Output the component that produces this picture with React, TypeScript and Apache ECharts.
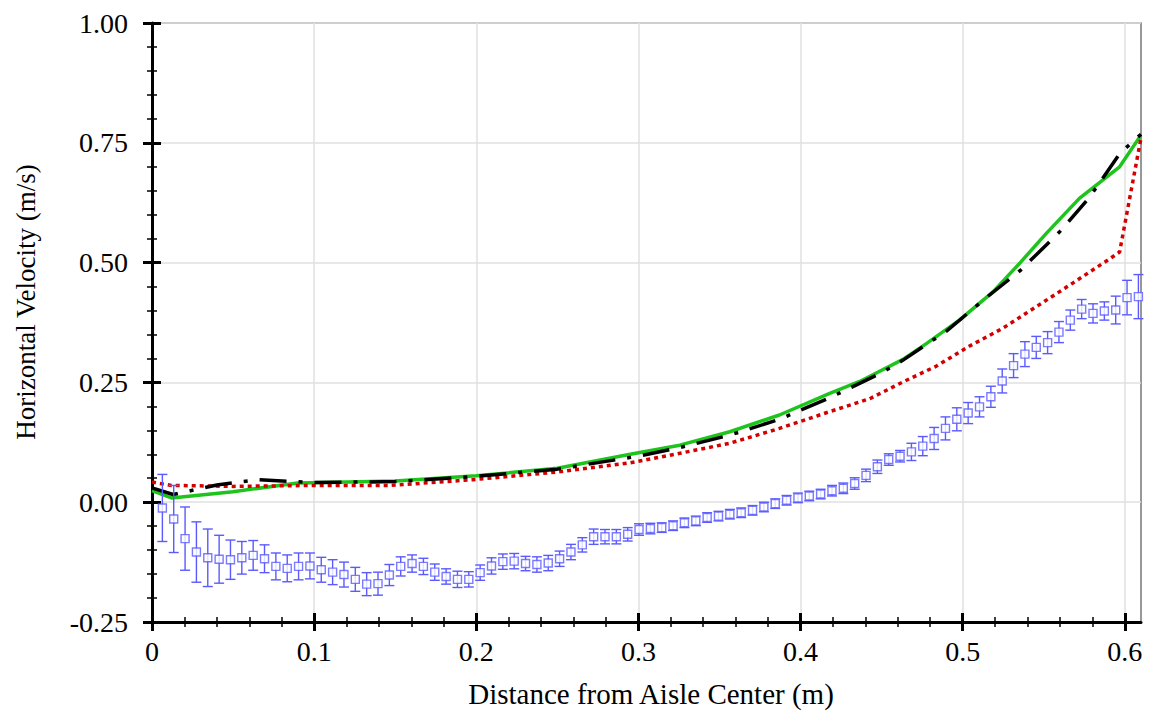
import React, { useEffect, useRef } from "react";
import * as echarts from "echarts";

// Measured data (blue squares with error bars)
const blueX = [
  0.0064, 0.0134, 0.0204, 0.0274, 0.0344, 0.0414, 0.0484, 0.0554, 0.0624, 0.0694,
  0.0764, 0.0834, 0.0904, 0.0974, 0.1044, 0.1114, 0.1184, 0.1254, 0.1324, 0.1394,
  0.1464, 0.1534, 0.1604, 0.1674, 0.1744, 0.1814, 0.1884, 0.1954, 0.2024, 0.2094,
  0.2164, 0.2234, 0.2304, 0.2374, 0.2444, 0.2514, 0.2584, 0.2654, 0.2724, 0.2794,
  0.2864, 0.2934, 0.3004, 0.3074, 0.3144, 0.3214, 0.3284, 0.3354, 0.3424, 0.3494,
  0.3564, 0.3634, 0.3704, 0.3774, 0.3844, 0.3914, 0.3984, 0.4054, 0.4124, 0.4194,
  0.4264, 0.4334, 0.4404, 0.4474, 0.4544, 0.4614, 0.4684, 0.4754, 0.4824, 0.4894,
  0.4964, 0.5034, 0.5104, 0.5174, 0.5244, 0.5314, 0.5384, 0.5454, 0.5524, 0.5594,
  0.5664, 0.5734, 0.5804, 0.5874, 0.5944, 0.6014, 0.6084,
];
const blueY = [
  -0.012, -0.035, -0.076, -0.104, -0.116, -0.119, -0.12, -0.116, -0.111, -0.118,
  -0.134, -0.138, -0.134, -0.133, -0.141, -0.146, -0.151, -0.161, -0.171, -0.17,
  -0.152, -0.134, -0.128, -0.134, -0.146, -0.155, -0.161, -0.161, -0.147, -0.133,
  -0.124, -0.123, -0.128, -0.13, -0.127, -0.118, -0.104, -0.089, -0.072, -0.072,
  -0.072, -0.067, -0.057, -0.055, -0.053, -0.049, -0.043, -0.039, -0.032, -0.029,
  -0.025, -0.022, -0.017, -0.01, -0.003, 0.004, 0.009, 0.013, 0.017, 0.024,
  0.029, 0.039, 0.056, 0.074, 0.089, 0.096, 0.105, 0.117, 0.133, 0.154,
  0.173, 0.186, 0.199, 0.22, 0.253, 0.285, 0.309, 0.323, 0.333, 0.355,
  0.38, 0.403, 0.394, 0.399, 0.401, 0.427, 0.429,
];
const blueErr = [
  0.07, 0.07, 0.066, 0.063, 0.06, 0.05, 0.041, 0.034, 0.031, 0.029,
  0.028, 0.028, 0.028, 0.027, 0.026, 0.026, 0.026, 0.025, 0.024, 0.024,
  0.022, 0.02, 0.018, 0.017, 0.017, 0.016, 0.017, 0.016, 0.016, 0.017,
  0.016, 0.016, 0.015, 0.016, 0.016, 0.016, 0.016, 0.015, 0.016, 0.015,
  0.015, 0.014, 0.012, 0.011, 0.01, 0.01, 0.01, 0.01, 0.01, 0.01,
  0.01, 0.01, 0.01, 0.01, 0.01, 0.01, 0.01, 0.01, 0.01, 0.011,
  0.011, 0.012, 0.013, 0.014, 0.012, 0.012, 0.018, 0.02, 0.023, 0.024,
  0.024, 0.022, 0.021, 0.022, 0.025, 0.025, 0.026, 0.023, 0.023, 0.022,
  0.021, 0.02, 0.02, 0.019, 0.029, 0.036, 0.046,
];

// Model predictions
const greenX = [0, 0.012, 0.05, 0.09, 0.15, 0.2, 0.25, 0.295, 0.3255, 0.3564, 0.387, 0.418, 0.4365, 0.4632, 0.4776, 0.498, 0.5187, 0.535, 0.5516, 0.572, 0.5968, 0.61];
const greenY = [0.024, 0.009, 0.022, 0.04, 0.044, 0.055, 0.071, 0.1, 0.119, 0.147, 0.182, 0.227, 0.252, 0.298, 0.331, 0.38, 0.439, 0.498, 0.561, 0.634, 0.7, 0.766];

const blackX = [0, 0.013, 0.04, 0.065, 0.1, 0.15, 0.2, 0.25, 0.3, 0.3255, 0.3564, 0.387, 0.418, 0.45, 0.463, 0.49, 0.515, 0.536, 0.56, 0.578, 0.597, 0.61];
const blackY = [0.03, 0.016, 0.036, 0.047, 0.041, 0.043, 0.054, 0.069, 0.096, 0.114, 0.14, 0.173, 0.218, 0.27, 0.296, 0.357, 0.428, 0.485, 0.565, 0.635, 0.728, 0.768];

const redX = [0, 0.012, 0.05, 0.1, 0.147, 0.198, 0.25, 0.2947, 0.3255, 0.3564, 0.387, 0.418, 0.4427, 0.4632, 0.4838, 0.5043, 0.5248, 0.5454, 0.566, 0.5894, 0.5968, 0.61];
const redY = [0.042, 0.035, 0.033, 0.035, 0.035, 0.047, 0.063, 0.082, 0.102, 0.123, 0.154, 0.189, 0.216, 0.251, 0.284, 0.326, 0.363, 0.408, 0.453, 0.505, 0.522, 0.76];

const xTickValues = [0, 0.1, 0.2, 0.3, 0.4, 0.5, 0.6];
const yTickValues = [-0.25, 0, 0.25, 0.5, 0.75, 1.0];

const BLUE = "#5a5aff";
const FONT = "Liberation Serif";

export default function App() {
  const ref = useRef<HTMLDivElement>(null);
  useEffect(() => {
    const chart = echarts.init(ref.current!, null, { renderer: "svg" });
    const pairs = (xs: number[], ys: number[]) => xs.map((x, i) => [x, ys[i]]);
    const errData = blueX.map((x, i) => [x, blueY[i] - blueErr[i], blueY[i] + blueErr[i]]);

    const xBase = { type: "value", min: 0, max: 0.61, interval: 0.1, gridIndex: 0, position: "bottom" };
    const yBase = { type: "value", min: -0.25, max: 1.0, interval: 0.25, gridIndex: 0, position: "left" };
    const tickStyle = { color: "#000", width: 3 };
    const minorStyle = { color: "#000", width: 1.5 };

    chart.setOption({
      animation: false,
      grid: { left: 152, right: 17, top: 23, bottom: 97, show: true, borderColor: "#777", borderWidth: 1.5, backgroundColor: "transparent" },
      xAxis: [
        {
          ...xBase,
          axisLine: { show: true, onZero: false, lineStyle: { color: "#000", width: 3 } },
          axisTick: { show: true, inside: false, length: 9, customValues: xTickValues, lineStyle: tickStyle },
          minorTick: { show: true, splitNumber: 5, length: 5, lineStyle: minorStyle },
          axisLabel: { show: false },
          splitLine: { show: true, lineStyle: { color: "#e0e0e0", width: 1.5 } },
        },
        {
          ...xBase,
          axisLine: { show: false, onZero: false },
          axisTick: { show: true, inside: true, length: 9, customValues: xTickValues, lineStyle: tickStyle },
          minorTick: { show: true, splitNumber: 5, length: 5, lineStyle: minorStyle },
          axisLabel: { show: false },
          splitLine: { show: false },
        },
      ],
      yAxis: [
        {
          ...yBase,
          axisLine: { show: true, onZero: false, lineStyle: { color: "#000", width: 3 } },
          axisTick: { show: true, inside: false, length: 9, lineStyle: tickStyle },
          minorTick: { show: true, splitNumber: 5, length: 5, lineStyle: minorStyle },
          axisLabel: { show: false },
          splitLine: { show: true, lineStyle: { color: "#e0e0e0", width: 1.5 } },
        },
        {
          ...yBase,
          axisLine: { show: false, onZero: false },
          axisTick: { show: true, inside: true, length: 9, lineStyle: tickStyle },
          minorTick: { show: true, splitNumber: 5, length: 5, lineStyle: minorStyle },
          axisLabel: { show: false },
          splitLine: { show: false },
        },
      ],
      series: [
        { name: "Model A", type: "line", data: pairs(greenX, greenY), showSymbol: false, symbol: "none", lineStyle: { color: "#1cc41c", width: 3.5 }, z: 3 },
        { name: "Model B", type: "line", data: pairs(redX, redY), showSymbol: false, symbol: "none", lineStyle: { color: "#d40000", width: 3.5, type: [4, 4], cap: "butt" }, z: 4 },
        { name: "Model C", type: "line", data: pairs(blackX, blackY), showSymbol: false, symbol: "none", lineStyle: { color: "#000", width: 3.5, type: [27, 12, 4, 12], cap: "butt" }, z: 5 },
        {
          name: "Error",
          type: "custom",
          data: errData,
          encode: { x: 0, y: [1, 2] },
          renderItem: (params: any, api: any) => {
            const x = api.value(0);
            const p1 = api.coord([x, api.value(2)]);
            const p2 = api.coord([x, api.value(1)]);
            const w = 5;
            const style = { stroke: BLUE, lineWidth: 1.4 };
            return {
              type: "group",
              children: [
                { type: "line", shape: { x1: p1[0], y1: p1[1], x2: p2[0], y2: p2[1] }, style },
                { type: "line", shape: { x1: p1[0] - w, y1: p1[1], x2: p1[0] + w, y2: p1[1] }, style },
                { type: "line", shape: { x1: p2[0] - w, y1: p2[1], x2: p2[0] + w, y2: p2[1] }, style },
              ],
            };
          },
          z: 6,
        },
        {
          name: "Measured",
          type: "scatter",
          data: pairs(blueX, blueY),
          symbol: "rect",
          symbolSize: 8,
          itemStyle: { color: "#fff", borderColor: BLUE, borderWidth: 1.4 },
          z: 7,
        },
      ],
    });

    const texts: any[] = [];
    xTickValues.forEach((v) => {
      const p = chart.convertToPixel({ xAxisIndex: 0 }, v) as number;
      texts.push({
        type: "text",
        x: p,
        y: 651,
        style: { text: v === 0 ? "0" : v.toFixed(1), fontFamily: FONT, fontSize: 28, fill: "#000", align: "center", verticalAlign: "middle" },
      });
    });
    yTickValues.forEach((v) => {
      const p = chart.convertToPixel({ yAxisIndex: 0 }, v) as number;
      texts.push({
        type: "text",
        x: 128,
        y: p,
        style: { text: v.toFixed(2), fontFamily: FONT, fontSize: 28, fill: "#000", align: "right", verticalAlign: "middle" },
      });
    });
    texts.push({
      type: "text",
      x: 26,
      y: 302,
      rotation: Math.PI / 2,
      style: { text: "Horizontal Velocity (m/s)", fontFamily: FONT, fontSize: 27, fill: "#000", align: "center", verticalAlign: "middle" },
    });
    texts.push({
      type: "text",
      x: 651,
      y: 694,
      style: { text: "Distance from Aisle Center (m)", fontFamily: FONT, fontSize: 29, fill: "#000", align: "center", verticalAlign: "middle" },
    });
    chart.setOption({ graphic: texts });

    return () => chart.dispose();
  }, []);
  return (
    <div
      ref={ref}
      style={{ position: "fixed", left: 0, top: 0, width: 1158, height: 719, background: "#fff" }}
    />
  );
}
